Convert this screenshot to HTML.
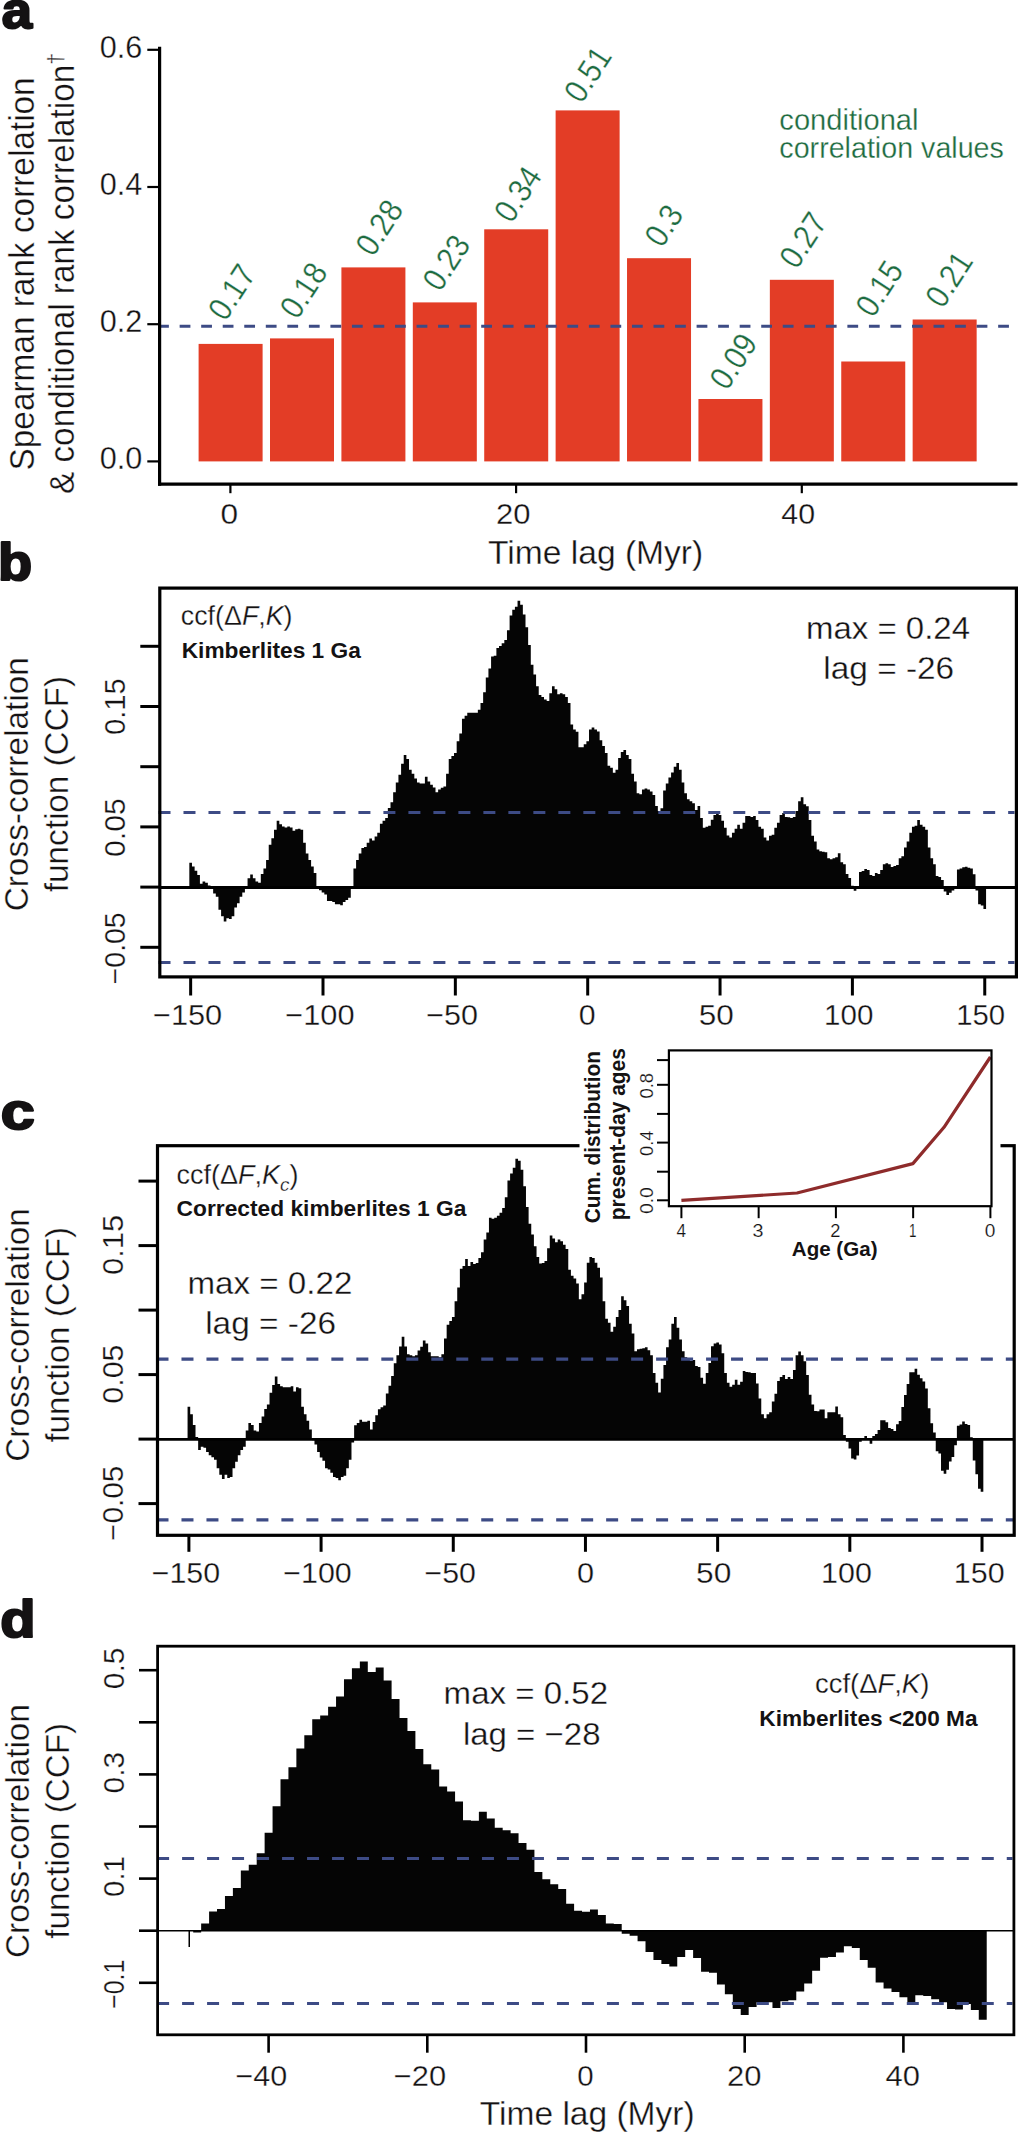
<!DOCTYPE html>
<html><head><meta charset="utf-8"><title>Figure</title>
<style>html,body{margin:0;padding:0;background:#fff;}svg{display:block;}text{font-family:"Liberation Sans",sans-serif;}</style>
</head><body>
<svg width="1018" height="2134" viewBox="0 0 1018 2134">
<rect x="0" y="0" width="1018" height="2134" fill="#fff"/>
<rect x="198.60" y="343.90" width="64.00" height="117.50" fill="#e33d26"/>
<rect x="270.00" y="338.40" width="64.00" height="123.00" fill="#e33d26"/>
<rect x="341.41" y="267.40" width="64.00" height="194.00" fill="#e33d26"/>
<rect x="412.81" y="302.40" width="64.00" height="159.00" fill="#e33d26"/>
<rect x="484.22" y="229.30" width="64.00" height="232.10" fill="#e33d26"/>
<rect x="555.62" y="110.40" width="64.00" height="351.00" fill="#e33d26"/>
<rect x="627.03" y="258.20" width="64.00" height="203.20" fill="#e33d26"/>
<rect x="698.44" y="399.00" width="64.00" height="62.40" fill="#e33d26"/>
<rect x="769.84" y="279.80" width="64.00" height="181.60" fill="#e33d26"/>
<rect x="841.25" y="361.50" width="64.00" height="99.90" fill="#e33d26"/>
<rect x="912.65" y="319.50" width="64.00" height="141.90" fill="#e33d26"/>
<line x1="158.10" y1="326.30" x2="1017.00" y2="326.30" stroke="#3d4b85" stroke-width="3" stroke-dasharray="10.77 10.77"/>
<line x1="159.60" y1="46.80" x2="159.60" y2="485.80" stroke="#000" stroke-width="3.2" />
<line x1="158.00" y1="484.20" x2="1017.50" y2="484.20" stroke="#000" stroke-width="3.2" />
<line x1="147.30" y1="461.40" x2="159.60" y2="461.40" stroke="#000" stroke-width="2.2" />
<line x1="147.30" y1="324.20" x2="159.60" y2="324.20" stroke="#000" stroke-width="2.2" />
<line x1="147.30" y1="187.00" x2="159.60" y2="187.00" stroke="#000" stroke-width="2.2" />
<line x1="147.30" y1="49.80" x2="159.60" y2="49.80" stroke="#000" stroke-width="2.2" />
<line x1="230.40" y1="484.20" x2="230.40" y2="493.20" stroke="#000" stroke-width="2.2" />
<line x1="516.10" y1="484.20" x2="516.10" y2="493.20" stroke="#000" stroke-width="2.2" />
<line x1="801.80" y1="484.20" x2="801.80" y2="493.20" stroke="#000" stroke-width="2.2" />
<text x="1.84" y="28.40" font-size="51.5" fill="#141213" font-weight="bold" stroke="#141213" stroke-width="2.2" stroke-linejoin="round" textLength="30.29" lengthAdjust="spacingAndGlyphs">a</text>
<text x="99.81" y="469.10" font-size="31" fill="#141213" stroke="#fff" stroke-width="0.31" textLength="42.58" lengthAdjust="spacingAndGlyphs">0.0</text>
<text x="99.81" y="331.90" font-size="31" fill="#141213" stroke="#fff" stroke-width="0.31" textLength="42.58" lengthAdjust="spacingAndGlyphs">0.2</text>
<text x="99.81" y="194.70" font-size="31" fill="#141213" stroke="#fff" stroke-width="0.31" textLength="42.58" lengthAdjust="spacingAndGlyphs">0.4</text>
<text x="99.81" y="57.50" font-size="31" fill="#141213" stroke="#fff" stroke-width="0.31" textLength="42.58" lengthAdjust="spacingAndGlyphs">0.6</text>
<text x="220.55" y="523.60" font-size="30" fill="#141213" stroke="#fff" stroke-width="0.30" textLength="17.58" lengthAdjust="spacingAndGlyphs">0</text>
<text x="495.97" y="523.60" font-size="30" fill="#141213" stroke="#fff" stroke-width="0.30" textLength="34.45" lengthAdjust="spacingAndGlyphs">20</text>
<text x="781.29" y="523.60" font-size="30" fill="#141213" stroke="#fff" stroke-width="0.30" textLength="33.81" lengthAdjust="spacingAndGlyphs">40</text>
<text x="488.00" y="563.60" font-size="33.5" fill="#141213" stroke="#fff" stroke-width="0.34" textLength="215.26" lengthAdjust="spacingAndGlyphs">Time lag (Myr)</text>
<text transform="translate(225.45,322.45) rotate(-57)" x="0" y="0" font-size="33" fill="#1d6b40" stroke="#fff" stroke-width="0.3" textLength="57.81" lengthAdjust="spacingAndGlyphs">0.17</text>
<text transform="translate(297.20,320.75) rotate(-57)" x="0" y="0" font-size="33" fill="#1d6b40" stroke="#fff" stroke-width="0.3" textLength="57.81" lengthAdjust="spacingAndGlyphs">0.18</text>
<text transform="translate(373.00,258.00) rotate(-57)" x="0" y="0" font-size="33" fill="#1d6b40" stroke="#fff" stroke-width="0.3" textLength="57.81" lengthAdjust="spacingAndGlyphs">0.28</text>
<text transform="translate(440.10,293.05) rotate(-57)" x="0" y="0" font-size="33" fill="#1d6b40" stroke="#fff" stroke-width="0.3" textLength="57.81" lengthAdjust="spacingAndGlyphs">0.23</text>
<text transform="translate(511.60,224.60) rotate(-57)" x="0" y="0" font-size="33" fill="#1d6b40" stroke="#fff" stroke-width="0.3" textLength="57.81" lengthAdjust="spacingAndGlyphs">0.34</text>
<text transform="translate(581.60,104.65) rotate(-57)" x="0" y="0" font-size="33" fill="#1d6b40" stroke="#fff" stroke-width="0.3" textLength="57.81" lengthAdjust="spacingAndGlyphs">0.51</text>
<text transform="translate(661.90,248.90) rotate(-57)" x="0" y="0" font-size="33" fill="#1d6b40" stroke="#fff" stroke-width="0.3" textLength="41.29" lengthAdjust="spacingAndGlyphs">0.3</text>
<text transform="translate(727.10,391.65) rotate(-57)" x="0" y="0" font-size="33" fill="#1d6b40" stroke="#fff" stroke-width="0.3" textLength="57.81" lengthAdjust="spacingAndGlyphs">0.09</text>
<text transform="translate(796.70,270.40) rotate(-57)" x="0" y="0" font-size="33" fill="#1d6b40" stroke="#fff" stroke-width="0.3" textLength="57.81" lengthAdjust="spacingAndGlyphs">0.27</text>
<text transform="translate(872.90,319.00) rotate(-57)" x="0" y="0" font-size="33" fill="#1d6b40" stroke="#fff" stroke-width="0.3" textLength="57.81" lengthAdjust="spacingAndGlyphs">0.15</text>
<text transform="translate(942.85,309.65) rotate(-57)" x="0" y="0" font-size="33" fill="#1d6b40" stroke="#fff" stroke-width="0.3" textLength="57.81" lengthAdjust="spacingAndGlyphs">0.21</text>
<text x="779.33" y="129.80" font-size="30" fill="#1d6b40" stroke="#fff" stroke-width="0.30" textLength="139.16" lengthAdjust="spacingAndGlyphs">conditional</text>
<text x="779.35" y="158.40" font-size="30" fill="#1d6b40" stroke="#fff" stroke-width="0.30" textLength="224.53" lengthAdjust="spacingAndGlyphs">correlation values</text>
<text transform="translate(34.00,470.43) rotate(-90)" x="0" y="0" font-size="34.5" fill="#141213" stroke="#fff" stroke-width="0.35" textLength="393.10" lengthAdjust="spacingAndGlyphs">Spearman rank correlation</text>
<text transform="translate(73.60,493.96) rotate(-90)" x="0" y="0" font-size="34.5" fill="#141213" stroke="#fff" stroke-width="0.35" textLength="441.00" lengthAdjust="spacingAndGlyphs">&amp; conditional rank correlation<tspan font-size="22" dy="-11">†</tspan></text>
<path d="M189.33,887.60L189.33,862.78L191.97,862.78L191.97,866.45L194.62,866.45L194.62,870.77L197.27,870.77L197.27,875.09L199.91,875.09L199.91,883.74L202.56,883.74L202.56,881.58L205.21,881.58L205.21,882.66L207.86,882.66L207.86,885.47L210.50,885.47L210.50,888.06L213.15,888.06L213.15,893.46L215.80,893.46L215.80,896.71L218.44,896.71L218.44,909.67L221.09,909.67L221.09,916.16L223.74,916.16L223.74,921.56L226.38,921.56L226.38,918.32L229.03,918.32L229.03,918.89L231.68,918.89L231.68,916.16L234.33,916.16L234.33,907.51L236.97,907.51L236.97,903.19L239.62,903.19L239.62,896.71L242.27,896.71L242.27,892.38L244.91,892.38L244.91,887.41L247.56,887.41L247.56,878.34L250.21,878.34L250.21,874.45L252.85,874.45L252.85,878.34L255.50,878.34L255.50,881.58L258.15,881.58L258.15,882.66L260.80,882.66L260.80,874.01L263.44,874.01L263.44,868.61L266.09,868.61L266.09,859.97L268.74,859.97L268.74,844.84L271.38,844.84L271.38,838.35L274.03,838.35L274.03,829.71L276.68,829.71L276.68,820.63L279.32,820.63L279.32,824.31L281.97,824.31L281.97,826.47L284.62,826.47L284.62,827.55L287.27,827.55L287.27,826.47L289.91,826.47L289.91,827.55L292.56,827.55L292.56,830.79L295.21,830.79L295.21,829.28L297.85,829.28L297.85,828.63L300.50,828.63L300.50,829.71L303.15,829.71L303.15,842.68L305.79,842.68L305.79,853.48L308.44,853.48L308.44,859.97L311.09,859.97L311.09,866.45L313.74,866.45L313.74,872.93L316.38,872.93L316.38,885.90L319.03,885.90L319.03,890.22L321.68,890.22L321.68,892.38L324.32,892.38L324.32,894.55L326.97,894.55L326.97,901.03L329.62,901.03L329.62,901.03L332.26,901.03L332.26,902.11L334.91,902.11L334.91,904.27L337.56,904.27L337.56,904.27L340.21,904.27L340.21,905.35L342.85,905.35L342.85,902.11L345.50,902.11L345.50,899.95L348.15,899.95L348.15,897.79L350.79,897.79L350.79,888.06L353.44,888.06L353.44,868.61L356.09,868.61L356.09,859.97L358.73,859.97L358.73,853.48L361.38,853.48L361.38,848.08L364.03,848.08L364.03,847.00L366.68,847.00L366.68,842.68L369.32,842.68L369.32,838.53L371.97,838.53L371.97,840.49L374.62,840.49L374.62,836.47L377.26,836.47L377.26,832.63L379.91,832.63L379.91,823.79L382.56,823.79L382.56,820.84L385.20,820.84L385.20,817.90L387.85,817.90L387.85,808.07L390.50,808.07L390.50,802.18L393.15,802.18L393.15,792.36L395.79,792.36L395.79,782.53L398.44,782.53L398.44,774.68L401.09,774.68L401.09,763.87L403.73,763.87L403.73,755.03L406.38,755.03L406.38,758.96L409.03,758.96L409.03,769.76L411.67,769.76L411.67,773.69L414.32,773.69L414.32,778.61L416.97,778.61L416.97,782.53L419.62,782.53L419.62,783.52L422.26,783.52L422.26,783.52L424.91,783.52L424.91,776.64L427.56,776.64L427.56,781.55L430.20,781.55L430.20,784.76L432.85,784.76L432.85,787.45L435.50,787.45L435.50,792.36L438.14,792.36L438.14,789.41L440.79,789.41L440.79,787.63L443.44,787.63L443.44,786.46L446.09,786.46L446.09,773.69L448.73,773.69L448.73,758.96L451.38,758.96L451.38,756.01L454.03,756.01L454.03,753.06L456.67,753.06L456.67,741.28L459.32,741.28L459.32,733.42L461.97,733.42L461.97,718.68L464.61,718.68L464.61,715.74L467.26,715.74L467.26,712.79L469.91,712.79L469.91,712.79L472.56,712.79L472.56,712.79L475.20,712.79L475.20,712.79L477.85,712.79L477.85,709.84L480.50,709.84L480.50,702.97L483.14,702.97L483.14,692.16L485.79,692.16L485.79,677.43L488.44,677.43L488.44,668.59L491.08,668.59L491.08,656.40L493.73,656.40L493.73,655.82L496.38,655.82L496.38,647.96L499.03,647.96L499.03,645.99L501.67,645.99L501.67,643.26L504.32,643.26L504.32,640.10L506.97,640.10L506.97,630.28L509.61,630.28L509.61,615.54L512.26,615.54L512.26,609.65L514.91,609.65L514.91,606.70L517.55,606.70L517.55,600.81L520.20,600.81L520.20,604.73L522.85,604.73L522.85,614.56L525.50,614.56L525.50,627.33L528.14,627.33L528.14,645.01L530.79,645.01L530.79,664.66L533.44,664.66L533.44,674.48L536.08,674.48L536.08,686.27L538.73,686.27L538.73,695.11L541.38,695.11L541.38,697.07L544.02,697.07L544.02,699.53L546.67,699.53L546.67,701.00L549.32,701.00L549.32,693.14L551.97,693.14L551.97,686.27L554.61,686.27L554.61,689.21L557.26,689.21L557.26,694.13L559.91,694.13L559.91,693.14L562.55,693.14L562.55,694.13L565.20,694.13L565.20,697.07L567.85,697.07L567.85,702.97L570.49,702.97L570.49,724.58L573.14,724.58L573.14,729.49L575.79,729.49L575.79,731.81L578.44,731.81L578.44,747.17L581.08,747.17L581.08,747.17L583.73,747.17L583.73,744.22L586.38,744.22L586.38,741.28L589.02,741.28L589.02,729.49L591.67,729.49L591.67,727.52L594.32,727.52L594.32,729.49L596.96,729.49L596.96,731.45L599.61,731.45L599.61,740.29L602.26,740.29L602.26,746.11L604.91,746.11L604.91,753.06L607.55,753.06L607.55,765.83L610.20,765.83L610.20,767.80L612.85,767.80L612.85,772.71L615.49,772.71L615.49,769.76L618.14,769.76L618.14,757.98L620.79,757.98L620.79,752.08L623.43,752.08L623.43,750.12L626.08,750.12L626.08,754.89L628.73,754.89L628.73,758.96L631.38,758.96L631.38,773.69L634.02,773.69L634.02,781.55L636.67,781.55L636.67,793.34L639.32,793.34L639.32,794.32L641.96,794.32L641.96,789.41L644.61,789.41L644.61,788.43L647.26,788.43L647.26,789.41L649.90,789.41L649.90,791.38L652.55,791.38L652.55,794.96L655.20,794.96L655.20,806.11L657.85,806.11L657.85,811.02L660.49,811.02L660.49,808.32L663.14,808.32L663.14,790.39L665.79,790.39L665.79,783.52L668.43,783.52L668.43,777.62L671.08,777.62L671.08,772.48L673.73,772.48L673.73,766.82L676.37,766.82L676.37,762.89L679.02,762.89L679.02,769.76L681.67,769.76L681.67,782.53L684.32,782.53L684.32,793.34L686.96,793.34L686.96,799.23L689.61,799.23L689.61,801.20L692.26,801.20L692.26,803.16L694.90,803.16L694.90,810.04L697.55,810.04L697.55,806.11L700.20,806.11L700.20,817.90L702.84,817.90L702.84,827.72L705.49,827.72L705.49,826.77L708.14,826.77L708.14,825.76L710.79,825.76L710.79,819.86L713.43,819.86L713.43,814.95L716.08,814.95L716.08,813.97L718.73,813.97L718.73,814.95L721.37,814.95L721.37,820.84L724.02,820.84L724.02,827.72L726.67,827.72L726.67,835.58L729.31,835.58L729.31,837.54L731.96,837.54L731.96,832.63L734.61,832.63L734.61,828.70L737.26,828.70L737.26,824.77L739.90,824.77L739.90,828.70L742.55,828.70L742.55,822.81L745.20,822.81L745.20,815.93L747.84,815.93L747.84,815.93L750.49,815.93L750.49,816.92L753.14,816.92L753.14,815.93L755.78,815.93L755.78,820.00L758.43,820.00L758.43,826.80L761.08,826.80L761.08,828.76L763.73,828.76L763.73,837.60L766.37,837.60L766.37,840.55L769.02,840.55L769.02,835.64L771.67,835.64L771.67,834.66L774.31,834.66L774.31,827.78L776.96,827.78L776.96,822.87L779.61,822.87L779.61,815.01L782.25,815.01L782.25,813.05L784.90,813.05L784.90,816.97L787.55,816.97L787.55,817.36L790.20,817.36L790.20,817.96L792.84,817.96L792.84,816.97L795.49,816.97L795.49,811.08L798.14,811.08L798.14,801.26L800.78,801.26L800.78,797.33L803.43,797.33L803.43,804.20L806.08,804.20L806.08,806.17L808.72,806.17L808.72,819.92L811.37,819.92L811.37,835.64L814.02,835.64L814.02,841.53L816.67,841.53L816.67,849.39L819.31,849.39L819.31,851.36L821.96,851.36L821.96,851.75L824.61,851.75L824.61,852.34L827.25,852.34L827.25,858.23L829.90,858.23L829.90,859.21L832.55,859.21L832.55,858.23L835.19,858.23L835.19,857.25L837.84,857.25L837.84,853.32L840.49,853.32L840.49,862.16L843.14,862.16L843.14,864.13L845.78,864.13L845.78,873.95L848.43,873.95L848.43,877.88L851.08,877.88L851.08,885.74L853.72,885.74L853.72,890.65L856.37,890.65L856.37,887.70L859.02,887.70L859.02,871.98L861.66,871.98L861.66,871.00L864.31,871.00L864.31,869.04L866.96,869.04L866.96,870.02L869.61,870.02L869.61,874.93L872.25,874.93L872.25,875.91L874.90,875.91L874.90,872.97L877.55,872.97L877.55,873.95L880.19,873.95L880.19,870.02L882.84,870.02L882.84,864.13L885.49,864.13L885.49,863.14L888.13,863.14L888.13,864.13L890.78,864.13L890.78,867.07L893.43,867.07L893.43,866.09L896.08,866.09L896.08,865.11L898.72,865.11L898.72,858.23L901.37,858.23L901.37,856.27L904.02,856.27L904.02,847.43L906.66,847.43L906.66,841.53L909.31,841.53L909.31,832.69L911.96,832.69L911.96,826.80L914.60,826.80L914.60,825.82L917.25,825.82L917.25,819.92L919.90,819.92L919.90,824.83L922.55,824.83L922.55,826.80L925.19,826.80L925.19,829.74L927.84,829.74L927.84,847.43L930.49,847.43L930.49,858.23L933.13,858.23L933.13,864.13L935.78,864.13L935.78,875.91L938.43,875.91L938.43,877.08L941.07,877.08L941.07,879.98L943.72,879.98L943.72,891.57L946.37,891.57L946.37,895.05L949.02,895.05L949.02,892.73L951.66,892.73L951.66,890.41L954.31,890.41L954.31,888.10L956.96,888.10L956.96,869.55L959.60,869.55L959.60,868.39L962.25,868.39L962.25,867.32L964.90,867.32L964.90,866.65L967.54,866.65L967.54,867.81L970.19,867.81L970.19,868.39L972.84,868.39L972.84,874.19L975.49,874.19L975.49,890.41L978.13,890.41L978.13,904.32L980.78,904.32L980.78,905.48L983.43,905.48L983.43,908.96L986.07,908.96L986.07,887.60Z" fill="#050505"/>
<line x1="160.00" y1="887.60" x2="1015.00" y2="887.60" stroke="#000" stroke-width="3" />
<line x1="158.50" y1="812.50" x2="1014.50" y2="812.50" stroke="#3d4b85" stroke-width="3.2" stroke-dasharray="12 12.99"/>
<line x1="158.50" y1="962.50" x2="1014.50" y2="962.50" stroke="#3d4b85" stroke-width="3.2" stroke-dasharray="12 12.99"/>
<rect x="159.80" y="588.10" width="856.60" height="388.80" fill="none" stroke="#000" stroke-width="3.2"/>
<line x1="140.30" y1="646.30" x2="159.80" y2="646.30" stroke="#000" stroke-width="3" />
<line x1="140.30" y1="706.50" x2="159.80" y2="706.50" stroke="#000" stroke-width="3" />
<line x1="140.30" y1="766.70" x2="159.80" y2="766.70" stroke="#000" stroke-width="3" />
<line x1="140.30" y1="826.90" x2="159.80" y2="826.90" stroke="#000" stroke-width="3" />
<line x1="140.30" y1="887.10" x2="159.80" y2="887.10" stroke="#000" stroke-width="3" />
<line x1="140.30" y1="947.30" x2="159.80" y2="947.30" stroke="#000" stroke-width="3" />
<line x1="190.65" y1="976.60" x2="190.65" y2="995.50" stroke="#000" stroke-width="3" />
<line x1="323.00" y1="976.60" x2="323.00" y2="995.50" stroke="#000" stroke-width="3" />
<line x1="455.35" y1="976.60" x2="455.35" y2="995.50" stroke="#000" stroke-width="3" />
<line x1="587.70" y1="976.60" x2="587.70" y2="995.50" stroke="#000" stroke-width="3" />
<line x1="720.05" y1="976.60" x2="720.05" y2="995.50" stroke="#000" stroke-width="3" />
<line x1="852.40" y1="976.60" x2="852.40" y2="995.50" stroke="#000" stroke-width="3" />
<line x1="984.75" y1="976.60" x2="984.75" y2="995.50" stroke="#000" stroke-width="3" />
<text x="-2.09" y="580.20" font-size="52.5" fill="#141213" font-weight="bold" stroke="#141213" stroke-width="2.2" stroke-linejoin="round" textLength="34.10" lengthAdjust="spacingAndGlyphs">b</text>
<text transform="translate(124.60,735.01) rotate(-90)" x="0" y="0" font-size="29" fill="#141213" stroke="#fff" stroke-width="0.29" textLength="56.77" lengthAdjust="spacingAndGlyphs">0.15</text>
<text transform="translate(124.60,857.04) rotate(-90)" x="0" y="0" font-size="29" fill="#141213" stroke="#fff" stroke-width="0.29" textLength="58.75" lengthAdjust="spacingAndGlyphs">0.05</text>
<text transform="translate(124.60,984.18) rotate(-90)" x="0" y="0" font-size="29" fill="#141213" stroke="#fff" stroke-width="0.29" textLength="71.74" lengthAdjust="spacingAndGlyphs">&#8722;0.05</text>
<text x="152.94" y="1025.00" font-size="29" fill="#141213" stroke="#fff" stroke-width="0.29" textLength="69.27" lengthAdjust="spacingAndGlyphs">&#8722;150</text>
<text x="285.24" y="1025.00" font-size="29" fill="#141213" stroke="#fff" stroke-width="0.29" textLength="69.27" lengthAdjust="spacingAndGlyphs">&#8722;100</text>
<text x="426.15" y="1025.00" font-size="29" fill="#141213" stroke="#fff" stroke-width="0.29" textLength="51.82" lengthAdjust="spacingAndGlyphs">&#8722;50</text>
<text x="578.66" y="1025.00" font-size="29" fill="#141213" stroke="#fff" stroke-width="0.29" textLength="16.83" lengthAdjust="spacingAndGlyphs">0</text>
<text x="698.81" y="1025.00" font-size="29" fill="#141213" stroke="#fff" stroke-width="0.29" textLength="35.06" lengthAdjust="spacingAndGlyphs">50</text>
<text x="824.06" y="1025.00" font-size="29" fill="#141213" stroke="#fff" stroke-width="0.29" textLength="49.25" lengthAdjust="spacingAndGlyphs">100</text>
<text x="956.18" y="1025.00" font-size="29" fill="#141213" stroke="#fff" stroke-width="0.29" textLength="48.93" lengthAdjust="spacingAndGlyphs">150</text>
<text x="180.81" y="624.60" font-size="27" fill="#141213" stroke="#fff" stroke-width="0.27" textLength="111.74" lengthAdjust="spacingAndGlyphs">ccf(&#916;<tspan font-style="italic">F</tspan>,<tspan font-style="italic">K</tspan>)</text>
<text x="181.69" y="657.60" font-size="22.5" fill="#141213" font-weight="bold" textLength="179.08" lengthAdjust="spacingAndGlyphs">Kimberlites 1 Ga</text>
<text x="806.04" y="638.70" font-size="32" fill="#141213" stroke="#fff" stroke-width="0.32" textLength="163.97" lengthAdjust="spacingAndGlyphs">max = 0.24</text>
<text x="823.31" y="678.60" font-size="32" fill="#141213" stroke="#fff" stroke-width="0.32" textLength="130.87" lengthAdjust="spacingAndGlyphs">lag = -26</text>
<text transform="translate(28.40,911.36) rotate(-90)" x="0" y="0" font-size="34" fill="#141213" stroke="#fff" stroke-width="0.34" textLength="254.19" lengthAdjust="spacingAndGlyphs">Cross-correlation</text>
<text transform="translate(68.10,892.20) rotate(-90)" x="0" y="0" font-size="34" fill="#141213" stroke="#fff" stroke-width="0.34" textLength="216.22" lengthAdjust="spacingAndGlyphs">function (CCF)</text>
<path d="M187.57,1439.40L187.57,1406.72L190.22,1406.72L190.22,1414.29L192.86,1414.29L192.86,1425.09L195.50,1425.09L195.50,1436.98L198.15,1436.98L198.15,1449.95L200.79,1449.95L200.79,1446.71L203.44,1446.71L203.44,1447.79L206.08,1447.79L206.08,1452.11L208.72,1452.11L208.72,1455.35L211.37,1455.35L211.37,1457.15L214.01,1457.15L214.01,1459.67L216.65,1459.67L216.65,1468.32L219.30,1468.32L219.30,1474.80L221.94,1474.80L221.94,1479.12L224.58,1479.12L224.58,1474.80L227.23,1474.80L227.23,1478.04L229.87,1478.04L229.87,1476.96L232.52,1476.96L232.52,1468.32L235.16,1468.32L235.16,1461.83L237.80,1461.83L237.80,1455.35L240.45,1455.35L240.45,1449.95L243.09,1449.95L243.09,1446.71L245.73,1446.71L245.73,1430.50L248.38,1430.50L248.38,1422.93L251.02,1422.93L251.02,1425.09L253.67,1425.09L253.67,1430.42L256.31,1430.42L256.31,1431.58L258.95,1431.58L258.95,1422.93L261.60,1422.93L261.60,1416.45L264.24,1416.45L264.24,1408.88L266.88,1408.88L266.88,1404.56L269.53,1404.56L269.53,1392.68L272.17,1392.68L272.17,1385.11L274.82,1385.11L274.82,1376.47L277.46,1376.47L277.46,1384.03L280.10,1384.03L280.10,1386.19L282.75,1386.19L282.75,1387.27L285.39,1387.27L285.39,1387.27L288.03,1387.27L288.03,1387.27L290.68,1387.27L290.68,1386.19L293.32,1386.19L293.32,1391.59L295.96,1391.59L295.96,1387.27L298.61,1387.27L298.61,1388.35L301.25,1388.35L301.25,1406.72L303.90,1406.72L303.90,1414.29L306.54,1414.29L306.54,1420.77L309.18,1420.77L309.18,1429.42L311.83,1429.42L311.83,1440.22L314.47,1440.22L314.47,1444.55L317.11,1444.55L317.11,1452.11L319.76,1452.11L319.76,1457.51L322.40,1457.51L322.40,1460.75L325.05,1460.75L325.05,1468.32L327.69,1468.32L327.69,1469.40L330.33,1469.40L330.33,1472.78L332.98,1472.78L332.98,1476.96L335.62,1476.96L335.62,1478.04L338.26,1478.04L338.26,1480.21L340.91,1480.21L340.91,1476.96L343.55,1476.96L343.55,1475.83L346.20,1475.83L346.20,1468.32L348.84,1468.32L348.84,1459.67L351.48,1459.67L351.48,1442.38L354.13,1442.38L354.13,1425.30L356.77,1425.30L356.77,1422.93L359.41,1422.93L359.41,1419.69L362.06,1419.69L362.06,1421.85L364.70,1421.85L364.70,1421.85L367.34,1421.85L367.34,1420.77L369.99,1420.77L369.99,1429.42L372.63,1429.42L372.63,1422.10L375.28,1422.10L375.28,1415.23L377.92,1415.23L377.92,1409.33L380.56,1409.33L380.56,1407.27L383.21,1407.27L383.21,1405.40L385.85,1405.40L385.85,1393.61L388.49,1393.61L388.49,1385.76L391.14,1385.76L391.14,1375.93L393.78,1375.93L393.78,1363.16L396.43,1363.16L396.43,1355.30L399.07,1355.30L399.07,1346.46L401.71,1346.46L401.71,1336.64L404.36,1336.64L404.36,1346.46L407.00,1346.46L407.00,1354.32L409.64,1354.32L409.64,1355.16L412.29,1355.16L412.29,1356.29L414.93,1356.29L414.93,1355.30L417.58,1355.30L417.58,1350.39L420.22,1350.39L420.22,1346.79L422.86,1346.79L422.86,1340.57L425.51,1340.57L425.51,1343.52L428.15,1343.52L428.15,1352.36L430.79,1352.36L430.79,1356.29L433.44,1356.29L433.44,1356.29L436.08,1356.29L436.08,1356.29L438.72,1356.29L438.72,1357.27L441.37,1357.27L441.37,1354.32L444.01,1354.32L444.01,1338.61L446.66,1338.61L446.66,1324.85L449.30,1324.85L449.30,1320.92L451.94,1320.92L451.94,1316.99L454.59,1316.99L454.59,1301.28L457.23,1301.28L457.23,1287.52L459.87,1287.52L459.87,1268.86L462.52,1268.86L462.52,1265.91L465.16,1265.91L465.16,1259.04L467.81,1259.04L467.81,1265.91L470.45,1265.91L470.45,1261.98L473.09,1261.98L473.09,1263.95L475.74,1263.95L475.74,1262.97L478.38,1262.97L478.38,1258.06L481.02,1258.06L481.02,1252.16L483.67,1252.16L483.67,1239.39L486.31,1239.39L486.31,1232.51L488.95,1232.51L488.95,1217.78L491.60,1217.78L491.60,1218.76L494.24,1218.76L494.24,1217.78L496.89,1217.78L496.89,1215.82L499.53,1215.82L499.53,1212.87L502.17,1212.87L502.17,1207.96L504.82,1207.96L504.82,1197.15L507.46,1197.15L507.46,1180.45L510.10,1180.45L510.10,1173.58L512.75,1173.58L512.75,1167.68L515.39,1167.68L515.39,1158.84L518.04,1158.84L518.04,1160.81L520.68,1160.81L520.68,1169.65L523.32,1169.65L523.32,1186.35L525.97,1186.35L525.97,1206.97L528.61,1206.97L528.61,1223.67L531.25,1223.67L531.25,1234.48L533.90,1234.48L533.90,1246.27L536.54,1246.27L536.54,1257.07L539.19,1257.07L539.19,1263.43L541.83,1263.43L541.83,1262.97L544.47,1262.97L544.47,1261.00L547.12,1261.00L547.12,1248.23L549.76,1248.23L549.76,1235.46L552.40,1235.46L552.40,1238.41L555.05,1238.41L555.05,1242.34L557.69,1242.34L557.69,1239.39L560.33,1239.39L560.33,1241.26L562.98,1241.26L562.98,1244.87L565.62,1244.87L565.62,1249.12L568.27,1249.12L568.27,1269.74L570.91,1269.74L570.91,1275.64L573.55,1275.64L573.55,1278.59L576.20,1278.59L576.20,1283.50L578.84,1283.50L578.84,1299.21L581.48,1299.21L581.48,1294.30L584.13,1294.30L584.13,1282.51L586.77,1282.51L586.77,1262.87L589.42,1262.87L589.42,1256.97L592.06,1256.97L592.06,1257.96L594.70,1257.96L594.70,1262.87L597.35,1262.87L597.35,1267.78L599.99,1267.78L599.99,1277.60L602.63,1277.60L602.63,1301.18L605.28,1301.18L605.28,1318.86L607.92,1318.86L607.92,1322.79L610.57,1322.79L610.57,1331.63L613.21,1331.63L613.21,1326.72L615.85,1326.72L615.85,1316.90L618.50,1316.90L618.50,1310.02L621.14,1310.02L621.14,1296.27L623.78,1296.27L623.78,1300.20L626.43,1300.20L626.43,1306.09L629.07,1306.09L629.07,1323.77L631.71,1323.77L631.71,1333.60L634.36,1333.60L634.36,1351.28L637.00,1351.28L637.00,1349.31L639.65,1349.31L639.65,1348.72L642.29,1348.72L642.29,1348.33L644.93,1348.33L644.93,1347.35L647.58,1347.35L647.58,1350.29L650.22,1350.29L650.22,1355.21L652.86,1355.21L652.86,1372.89L655.51,1372.89L655.51,1382.71L658.15,1382.71L658.15,1392.53L660.80,1392.53L660.80,1378.78L663.44,1378.78L663.44,1365.03L666.08,1365.03L666.08,1347.35L668.73,1347.35L668.73,1339.49L671.37,1339.49L671.37,1323.77L674.01,1323.77L674.01,1316.90L676.66,1316.90L676.66,1327.70L679.30,1327.70L679.30,1339.49L681.95,1339.49L681.95,1351.28L684.59,1351.28L684.59,1357.17L687.23,1357.17L687.23,1359.14L689.88,1359.14L689.88,1360.67L692.52,1360.67L692.52,1360.12L695.16,1360.12L695.16,1366.01L697.81,1366.01L697.81,1366.99L700.45,1366.99L700.45,1377.80L703.09,1377.80L703.09,1383.69L705.74,1383.69L705.74,1372.89L708.38,1372.89L708.38,1363.06L711.03,1363.06L711.03,1346.37L713.67,1346.37L713.67,1343.42L716.31,1343.42L716.31,1342.44L718.96,1342.44L718.96,1344.40L721.60,1344.40L721.60,1353.24L724.24,1353.24L724.24,1372.89L726.89,1372.89L726.89,1382.71L729.53,1382.71L729.53,1386.64L732.18,1386.64L732.18,1384.68L734.82,1384.68L734.82,1379.76L737.46,1379.76L737.46,1384.68L740.11,1384.68L740.11,1381.73L742.75,1381.73L742.75,1370.92L745.39,1370.92L745.39,1371.91L748.04,1371.91L748.04,1372.34L750.68,1372.34L750.68,1372.89L753.32,1372.89L753.32,1372.89L755.97,1372.89L755.97,1383.60L758.61,1383.60L758.61,1398.59L761.26,1398.59L761.26,1414.30L763.90,1414.30L763.90,1418.23L766.54,1418.23L766.54,1414.30L769.19,1414.30L769.19,1412.34L771.83,1412.34L771.83,1401.53L774.47,1401.53L774.47,1393.67L777.12,1393.67L777.12,1380.90L779.76,1380.90L779.76,1376.97L782.41,1376.97L782.41,1375.01L785.05,1375.01L785.05,1378.94L787.69,1378.94L787.69,1376.97L790.34,1376.97L790.34,1378.94L792.98,1378.94L792.98,1370.10L795.62,1370.10L795.62,1355.36L798.27,1355.36L798.27,1351.43L800.91,1351.43L800.91,1355.36L803.56,1355.36L803.56,1361.26L806.20,1361.26L806.20,1375.01L808.84,1375.01L808.84,1394.66L811.49,1394.66L811.49,1404.48L814.13,1404.48L814.13,1410.91L816.77,1410.91L816.77,1411.36L819.42,1411.36L819.42,1409.39L822.06,1409.39L822.06,1409.39L824.70,1409.39L824.70,1418.23L827.35,1418.23L827.35,1412.34L829.99,1412.34L829.99,1412.34L832.64,1412.34L832.64,1412.34L835.28,1412.34L835.28,1406.44L837.92,1406.44L837.92,1414.30L840.57,1414.30L840.57,1417.25L843.21,1417.25L843.21,1434.93L845.85,1434.93L845.85,1441.81L848.50,1441.81L848.50,1448.38L851.14,1448.38L851.14,1458.51L853.79,1458.51L853.79,1459.49L856.43,1459.49L856.43,1455.56L859.07,1455.56L859.07,1441.81L861.72,1441.81L861.72,1438.86L864.36,1438.86L864.36,1435.91L867.00,1435.91L867.00,1438.86L869.65,1438.86L869.65,1443.77L872.29,1443.77L872.29,1435.91L874.94,1435.91L874.94,1433.95L877.58,1433.95L877.58,1430.02L880.22,1430.02L880.22,1420.20L882.87,1420.20L882.87,1420.20L885.51,1420.20L885.51,1422.16L888.15,1422.16L888.15,1428.06L890.80,1428.06L890.80,1429.04L893.44,1429.04L893.44,1431.00L896.08,1431.00L896.08,1424.13L898.73,1424.13L898.73,1421.00L901.37,1421.00L901.37,1407.09L904.02,1407.09L904.02,1394.92L906.66,1394.92L906.66,1383.91L909.30,1383.91L909.30,1372.32L911.95,1372.32L911.95,1372.32L914.59,1372.32L914.59,1368.84L917.23,1368.84L917.23,1374.64L919.88,1374.64L919.88,1378.22L922.52,1378.22L922.52,1381.59L925.17,1381.59L925.17,1388.55L927.81,1388.55L927.81,1408.25L930.45,1408.25L930.45,1423.32L933.10,1423.32L933.10,1432.59L935.74,1432.59L935.74,1451.14L938.38,1451.14L938.38,1453.46L941.03,1453.46L941.03,1470.85L943.67,1470.85L943.67,1473.74L946.32,1473.74L946.32,1469.69L948.96,1469.69L948.96,1461.57L951.60,1461.57L951.60,1456.94L954.25,1456.94L954.25,1445.34L956.89,1445.34L956.89,1425.64L959.53,1425.64L959.53,1424.48L962.18,1424.48L962.18,1421.58L964.82,1421.58L964.82,1423.90L967.46,1423.90L967.46,1424.97L970.11,1424.97L970.11,1437.23L972.75,1437.23L972.75,1460.41L975.40,1460.41L975.40,1474.32L978.04,1474.32L978.04,1488.81L980.68,1488.81L980.68,1491.71L983.33,1491.71L983.33,1439.40Z" fill="#050505"/>
<line x1="158.00" y1="1439.40" x2="1013.00" y2="1439.40" stroke="#000" stroke-width="2.6" />
<line x1="156.50" y1="1359.20" x2="1013.00" y2="1359.20" stroke="#3d4b85" stroke-width="3.2" stroke-dasharray="12 12.98"/>
<line x1="156.50" y1="1519.80" x2="1013.00" y2="1519.80" stroke="#3d4b85" stroke-width="3.2" stroke-dasharray="12 12.98"/>
<rect x="157.50" y="1145.70" width="856.70" height="389.60" fill="none" stroke="#000" stroke-width="3.2"/>
<line x1="138.50" y1="1181.10" x2="157.50" y2="1181.10" stroke="#000" stroke-width="3" />
<line x1="138.50" y1="1245.60" x2="157.50" y2="1245.60" stroke="#000" stroke-width="3" />
<line x1="138.50" y1="1310.10" x2="157.50" y2="1310.10" stroke="#000" stroke-width="3" />
<line x1="138.50" y1="1374.60" x2="157.50" y2="1374.60" stroke="#000" stroke-width="3" />
<line x1="138.50" y1="1439.10" x2="157.50" y2="1439.10" stroke="#000" stroke-width="3" />
<line x1="138.50" y1="1503.60" x2="157.50" y2="1503.60" stroke="#000" stroke-width="3" />
<line x1="188.90" y1="1535.30" x2="188.90" y2="1551.80" stroke="#000" stroke-width="3" />
<line x1="321.08" y1="1535.30" x2="321.08" y2="1551.80" stroke="#000" stroke-width="3" />
<line x1="453.27" y1="1535.30" x2="453.27" y2="1551.80" stroke="#000" stroke-width="3" />
<line x1="585.45" y1="1535.30" x2="585.45" y2="1551.80" stroke="#000" stroke-width="3" />
<line x1="717.63" y1="1535.30" x2="717.63" y2="1551.80" stroke="#000" stroke-width="3" />
<line x1="849.82" y1="1535.30" x2="849.82" y2="1551.80" stroke="#000" stroke-width="3" />
<line x1="982.01" y1="1535.30" x2="982.01" y2="1551.80" stroke="#000" stroke-width="3" />
<text x="0.72" y="1129.40" font-size="51.5" fill="#141213" font-weight="bold" stroke="#141213" stroke-width="2.2" stroke-linejoin="round" textLength="34.04" lengthAdjust="spacingAndGlyphs">c</text>
<text transform="translate(123.20,1274.97) rotate(-90)" x="0" y="0" font-size="29" fill="#141213" stroke="#fff" stroke-width="0.29" textLength="60.22" lengthAdjust="spacingAndGlyphs">0.15</text>
<text transform="translate(123.20,1403.65) rotate(-90)" x="0" y="0" font-size="29" fill="#141213" stroke="#fff" stroke-width="0.29" textLength="59.17" lengthAdjust="spacingAndGlyphs">0.05</text>
<text transform="translate(123.20,1541.03) rotate(-90)" x="0" y="0" font-size="29" fill="#141213" stroke="#fff" stroke-width="0.29" textLength="75.46" lengthAdjust="spacingAndGlyphs">&#8722;0.05</text>
<text x="151.65" y="1583.00" font-size="29" fill="#141213" stroke="#fff" stroke-width="0.29" textLength="68.54" lengthAdjust="spacingAndGlyphs">&#8722;150</text>
<text x="283.25" y="1583.00" font-size="29" fill="#141213" stroke="#fff" stroke-width="0.29" textLength="68.54" lengthAdjust="spacingAndGlyphs">&#8722;100</text>
<text x="424.56" y="1583.00" font-size="29" fill="#141213" stroke="#fff" stroke-width="0.29" textLength="51.40" lengthAdjust="spacingAndGlyphs">&#8722;50</text>
<text x="576.94" y="1583.00" font-size="29" fill="#141213" stroke="#fff" stroke-width="0.29" textLength="17.06" lengthAdjust="spacingAndGlyphs">0</text>
<text x="696.11" y="1583.00" font-size="29" fill="#141213" stroke="#fff" stroke-width="0.29" textLength="35.28" lengthAdjust="spacingAndGlyphs">50</text>
<text x="821.10" y="1583.00" font-size="29" fill="#141213" stroke="#fff" stroke-width="0.29" textLength="50.76" lengthAdjust="spacingAndGlyphs">100</text>
<text x="953.80" y="1583.00" font-size="29" fill="#141213" stroke="#fff" stroke-width="0.29" textLength="50.86" lengthAdjust="spacingAndGlyphs">150</text>
<text x="176.60" y="1183.80" font-size="27" fill="#141213" stroke="#fff" stroke-width="0.27" textLength="121.96" lengthAdjust="spacingAndGlyphs">ccf(&#916;<tspan font-style="italic">F</tspan>,<tspan font-style="italic">K<tspan font-size="19" dy="7">c</tspan></tspan><tspan dy="-7">)</tspan></text>
<text x="176.59" y="1216.20" font-size="22.5" fill="#141213" font-weight="bold" textLength="289.78" lengthAdjust="spacingAndGlyphs">Corrected kimberlites 1 Ga</text>
<text x="187.53" y="1293.60" font-size="32" fill="#141213" stroke="#fff" stroke-width="0.32" textLength="164.82" lengthAdjust="spacingAndGlyphs">max = 0.22</text>
<text x="205.21" y="1333.50" font-size="32" fill="#141213" stroke="#fff" stroke-width="0.32" textLength="130.87" lengthAdjust="spacingAndGlyphs">lag = -26</text>
<text transform="translate(28.70,1461.76) rotate(-90)" x="0" y="0" font-size="34" fill="#141213" stroke="#fff" stroke-width="0.34" textLength="253.58" lengthAdjust="spacingAndGlyphs">Cross-correlation</text>
<text transform="translate(68.50,1442.60) rotate(-90)" x="0" y="0" font-size="34" fill="#141213" stroke="#fff" stroke-width="0.34" textLength="215.61" lengthAdjust="spacingAndGlyphs">function (CCF)</text>
<rect x="579.50" y="1138.00" width="421.00" height="14.00" fill="#fff"/>
<polyline points="681.4,1200.4 797,1193 912.9,1163.6 944,1127.3 990.4,1057" fill="none" stroke="#8e2b2b" stroke-width="3.2" stroke-linejoin="round"/>
<rect x="668.90" y="1050.40" width="322.60" height="155.80" fill="none" stroke="#000" stroke-width="2.2"/>
<line x1="657.00" y1="1200.30" x2="668.90" y2="1200.30" stroke="#000" stroke-width="2" />
<line x1="657.00" y1="1171.70" x2="668.90" y2="1171.70" stroke="#000" stroke-width="2" />
<line x1="657.00" y1="1142.60" x2="668.90" y2="1142.60" stroke="#000" stroke-width="2" />
<line x1="657.00" y1="1113.90" x2="668.90" y2="1113.90" stroke="#000" stroke-width="2" />
<line x1="657.00" y1="1084.80" x2="668.90" y2="1084.80" stroke="#000" stroke-width="2" />
<line x1="657.00" y1="1060.10" x2="668.90" y2="1060.10" stroke="#000" stroke-width="2" />
<line x1="681.40" y1="1206.20" x2="681.40" y2="1218.20" stroke="#000" stroke-width="2" />
<line x1="758.65" y1="1206.20" x2="758.65" y2="1218.20" stroke="#000" stroke-width="2" />
<line x1="835.90" y1="1206.20" x2="835.90" y2="1218.20" stroke="#000" stroke-width="2" />
<line x1="913.15" y1="1206.20" x2="913.15" y2="1218.20" stroke="#000" stroke-width="2" />
<line x1="990.40" y1="1206.20" x2="990.40" y2="1218.20" stroke="#000" stroke-width="2" />
<text transform="translate(653.10,1214.12) rotate(-90)" x="0" y="0" font-size="19" fill="#141213" stroke="#fff" stroke-width="0.19" textLength="26.95" lengthAdjust="spacingAndGlyphs">0.0</text>
<text transform="translate(653.10,1155.96) rotate(-90)" x="0" y="0" font-size="19" fill="#141213" stroke="#fff" stroke-width="0.19" textLength="25.36" lengthAdjust="spacingAndGlyphs">0.4</text>
<text transform="translate(653.10,1098.57) rotate(-90)" x="0" y="0" font-size="19" fill="#141213" stroke="#fff" stroke-width="0.19" textLength="25.68" lengthAdjust="spacingAndGlyphs">0.8</text>
<text x="676.50" y="1237.30" font-size="18.5" fill="#141213" stroke="#fff" stroke-width="0.18" textLength="9.58" lengthAdjust="spacingAndGlyphs">4</text>
<text x="752.43" y="1237.30" font-size="18.5" fill="#141213" stroke="#fff" stroke-width="0.18" textLength="10.98" lengthAdjust="spacingAndGlyphs">3</text>
<text x="830.21" y="1237.30" font-size="18.5" fill="#141213" stroke="#fff" stroke-width="0.18" textLength="10.18" lengthAdjust="spacingAndGlyphs">2</text>
<text x="908.88" y="1237.30" font-size="18.5" fill="#141213" stroke="#fff" stroke-width="0.18" textLength="7.44" lengthAdjust="spacingAndGlyphs">1</text>
<text x="984.87" y="1237.30" font-size="18.5" fill="#141213" stroke="#fff" stroke-width="0.18" textLength="10.64" lengthAdjust="spacingAndGlyphs">0</text>
<text x="791.82" y="1256.10" font-size="21" fill="#141213" font-weight="bold" textLength="85.68" lengthAdjust="spacingAndGlyphs">Age (Ga)</text>
<text transform="translate(599.80,1223.14) rotate(-90)" x="0" y="0" font-size="22" fill="#141213" font-weight="bold" textLength="172.08" lengthAdjust="spacingAndGlyphs">Cum. distribution</text>
<text transform="translate(624.80,1220.15) rotate(-90)" x="0" y="0" font-size="22" fill="#141213" font-weight="bold" textLength="171.97" lengthAdjust="spacingAndGlyphs">present-day ages</text>
<path d="M193.22,1930.70L193.22,1932.50L201.15,1932.50L201.15,1923.60L209.09,1923.60L209.09,1911.40L217.02,1911.40L217.02,1908.90L224.96,1908.90L224.96,1895.90L232.89,1895.90L232.89,1888.00L240.83,1888.00L240.83,1870.40L248.76,1870.40L248.76,1864.70L256.70,1864.70L256.70,1853.20L264.63,1853.20L264.63,1832.80L272.57,1832.80L272.57,1806.30L280.50,1806.30L280.50,1779.20L288.44,1779.20L288.44,1767.20L296.37,1767.20L296.37,1748.50L304.31,1748.50L304.31,1735.30L312.24,1735.30L312.24,1719.30L320.18,1719.30L320.18,1715.60L328.11,1715.60L328.11,1706.80L336.05,1706.80L336.05,1696.50L343.98,1696.50L343.98,1679.30L351.92,1679.30L351.92,1668.20L359.85,1668.20L359.85,1661.60L367.79,1661.60L367.79,1671.90L375.72,1671.90L375.72,1667.50L383.66,1667.50L383.66,1680.50L391.59,1680.50L391.59,1698.90L399.53,1698.90L399.53,1718.10L407.46,1718.10L407.46,1730.90L415.40,1730.90L415.40,1749.10L423.33,1749.10L423.33,1764.30L431.27,1764.30L431.27,1769.50L439.20,1769.50L439.20,1786.40L447.14,1786.40L447.14,1791.40L455.07,1791.40L455.07,1801.40L463.01,1801.40L463.01,1820.30L470.94,1820.30L470.94,1820.80L478.88,1820.80L478.88,1811.70L486.81,1811.70L486.81,1818.60L494.75,1818.60L494.75,1827.70L502.68,1827.70L502.68,1830.20L510.62,1830.20L510.62,1833.30L518.55,1833.30L518.55,1842.90L526.49,1842.90L526.49,1849.80L534.42,1849.80L534.42,1871.90L542.36,1871.90L542.36,1879.30L550.29,1879.30L550.29,1884.20L558.23,1884.20L558.23,1889.10L566.16,1889.10L566.16,1903.80L574.10,1903.80L574.10,1910.70L582.03,1910.70L582.03,1911.70L589.97,1911.70L589.97,1909.50L597.90,1909.50L597.90,1914.90L605.84,1914.90L605.84,1923.50L613.77,1923.50L613.77,1924.00L621.71,1924.00L621.71,1933.80L629.64,1933.80L629.64,1935.80L637.58,1935.80L637.58,1941.30L645.51,1941.30L645.51,1952.10L653.45,1952.10L653.45,1959.90L661.38,1959.90L661.38,1963.90L669.32,1963.90L669.32,1966.40L677.25,1966.40L677.25,1957.00L685.19,1957.00L685.19,1950.10L693.12,1950.10L693.12,1958.00L701.06,1958.00L701.06,1971.70L708.99,1971.70L708.99,1972.70L716.93,1972.70L716.93,1984.50L724.86,1984.50L724.86,1994.30L732.80,1994.30L732.80,2009.00L740.73,2009.00L740.73,2014.90L748.67,2014.90L748.67,2007.10L756.60,2007.10L756.60,2002.20L764.54,2002.20L764.54,2002.20L772.47,2002.20L772.47,2008.10L780.41,2008.10L780.41,2001.20L788.34,2001.20L788.34,2000.20L796.28,2000.20L796.28,1991.40L804.21,1991.40L804.21,1983.50L812.15,1983.50L812.15,1970.70L820.08,1970.70L820.08,1957.80L828.02,1957.80L828.02,1957.00L835.95,1957.00L835.95,1952.40L843.89,1952.40L843.89,1946.20L851.82,1946.20L851.82,1948.10L859.76,1948.10L859.76,1959.90L867.69,1959.90L867.69,1967.80L875.63,1967.80L875.63,1982.50L883.56,1982.50L883.56,1988.40L891.50,1988.40L891.50,1991.90L899.43,1991.90L899.43,1997.20L907.37,1997.20L907.37,2002.20L915.30,2002.20L915.30,1995.30L923.24,1995.30L923.24,1995.90L931.17,1995.90L931.17,1999.20L939.11,1999.20L939.11,2002.20L947.04,2002.20L947.04,2009.00L954.98,2009.00L954.98,2009.60L962.91,2009.60L962.91,2004.10L970.85,2004.10L970.85,2010.00L978.78,2010.00L978.78,2019.80L986.72,2019.80L986.72,1930.70Z" fill="#050505"/>
<line x1="189.25" y1="1930.70" x2="189.25" y2="1947.00" stroke="#000" stroke-width="1.5" />
<line x1="158.00" y1="1930.70" x2="1013.00" y2="1930.70" stroke="#000" stroke-width="1.6" />
<line x1="157.10" y1="1858.60" x2="1012.50" y2="1858.60" stroke="#3d4b85" stroke-width="3.0" stroke-dasharray="12 12.99"/>
<line x1="157.10" y1="2003.60" x2="1012.50" y2="2003.60" stroke="#3d4b85" stroke-width="3.0" stroke-dasharray="12 12.99"/>
<rect x="157.60" y="1646.20" width="856.30" height="388.60" fill="none" stroke="#000" stroke-width="2.8"/>
<line x1="139.00" y1="1670.20" x2="157.60" y2="1670.20" stroke="#000" stroke-width="2.6" />
<line x1="139.00" y1="1722.30" x2="157.60" y2="1722.30" stroke="#000" stroke-width="2.6" />
<line x1="139.00" y1="1774.40" x2="157.60" y2="1774.40" stroke="#000" stroke-width="2.6" />
<line x1="139.00" y1="1826.50" x2="157.60" y2="1826.50" stroke="#000" stroke-width="2.6" />
<line x1="139.00" y1="1878.60" x2="157.60" y2="1878.60" stroke="#000" stroke-width="2.6" />
<line x1="139.00" y1="1930.70" x2="157.60" y2="1930.70" stroke="#000" stroke-width="2.6" />
<line x1="139.00" y1="1982.80" x2="157.60" y2="1982.80" stroke="#000" stroke-width="2.6" />
<line x1="268.60" y1="2034.80" x2="268.60" y2="2052.70" stroke="#000" stroke-width="2.6" />
<line x1="427.30" y1="2034.80" x2="427.30" y2="2052.70" stroke="#000" stroke-width="2.6" />
<line x1="586.00" y1="2034.80" x2="586.00" y2="2052.70" stroke="#000" stroke-width="2.6" />
<line x1="744.70" y1="2034.80" x2="744.70" y2="2052.70" stroke="#000" stroke-width="2.6" />
<line x1="903.40" y1="2034.80" x2="903.40" y2="2052.70" stroke="#000" stroke-width="2.6" />
<text x="0.20" y="1637.40" font-size="52.5" fill="#141213" font-weight="bold" stroke="#141213" stroke-width="2.2" stroke-linejoin="round" textLength="35.29" lengthAdjust="spacingAndGlyphs">d</text>
<text transform="translate(124.00,1689.23) rotate(-90)" x="0" y="0" font-size="29" fill="#141213" stroke="#fff" stroke-width="0.29" textLength="41.71" lengthAdjust="spacingAndGlyphs">0.5</text>
<text transform="translate(124.00,1793.53) rotate(-90)" x="0" y="0" font-size="29" fill="#141213" stroke="#fff" stroke-width="0.29" textLength="41.71" lengthAdjust="spacingAndGlyphs">0.3</text>
<text transform="translate(124.00,1896.91) rotate(-90)" x="0" y="0" font-size="29" fill="#141213" stroke="#fff" stroke-width="0.29" textLength="40.75" lengthAdjust="spacingAndGlyphs">0.1</text>
<text transform="translate(124.00,2008.86) rotate(-90)" x="0" y="0" font-size="29" fill="#141213" stroke="#fff" stroke-width="0.29" textLength="49.13" lengthAdjust="spacingAndGlyphs">&#8722;0.1</text>
<text x="235.45" y="2085.50" font-size="29" fill="#141213" stroke="#fff" stroke-width="0.29" textLength="51.82" lengthAdjust="spacingAndGlyphs">&#8722;40</text>
<text x="393.74" y="2085.50" font-size="29" fill="#141213" stroke="#fff" stroke-width="0.29" textLength="52.34" lengthAdjust="spacingAndGlyphs">&#8722;20</text>
<text x="577.29" y="2085.50" font-size="29" fill="#141213" stroke="#fff" stroke-width="0.29" textLength="16.37" lengthAdjust="spacingAndGlyphs">0</text>
<text x="727.13" y="2085.50" font-size="29" fill="#141213" stroke="#fff" stroke-width="0.29" textLength="34.42" lengthAdjust="spacingAndGlyphs">20</text>
<text x="885.53" y="2085.50" font-size="29" fill="#141213" stroke="#fff" stroke-width="0.29" textLength="34.42" lengthAdjust="spacingAndGlyphs">40</text>
<text x="479.80" y="2125.40" font-size="33.5" fill="#141213" stroke="#fff" stroke-width="0.34" textLength="214.86" lengthAdjust="spacingAndGlyphs">Time lag (Myr)</text>
<text x="443.63" y="1703.70" font-size="32" fill="#141213" stroke="#fff" stroke-width="0.32" textLength="164.41" lengthAdjust="spacingAndGlyphs">max = 0.52</text>
<text x="462.94" y="1744.60" font-size="32" fill="#141213" stroke="#fff" stroke-width="0.32" textLength="137.56" lengthAdjust="spacingAndGlyphs">lag = &#8722;28</text>
<text x="815.09" y="1692.60" font-size="27" fill="#141213" stroke="#fff" stroke-width="0.27" textLength="114.20" lengthAdjust="spacingAndGlyphs">ccf(&#916;<tspan font-style="italic">F</tspan>,<tspan font-style="italic">K</tspan>)</text>
<text x="759.39" y="1726.30" font-size="22.5" fill="#141213" font-weight="bold" textLength="218.09" lengthAdjust="spacingAndGlyphs">Kimberlites &lt;200 Ma</text>
<text transform="translate(28.70,1957.96) rotate(-90)" x="0" y="0" font-size="34" fill="#141213" stroke="#fff" stroke-width="0.34" textLength="253.89" lengthAdjust="spacingAndGlyphs">Cross-correlation</text>
<text transform="translate(68.50,1938.80) rotate(-90)" x="0" y="0" font-size="34" fill="#141213" stroke="#fff" stroke-width="0.34" textLength="215.91" lengthAdjust="spacingAndGlyphs">function (CCF)</text>
</svg>
</body></html>
